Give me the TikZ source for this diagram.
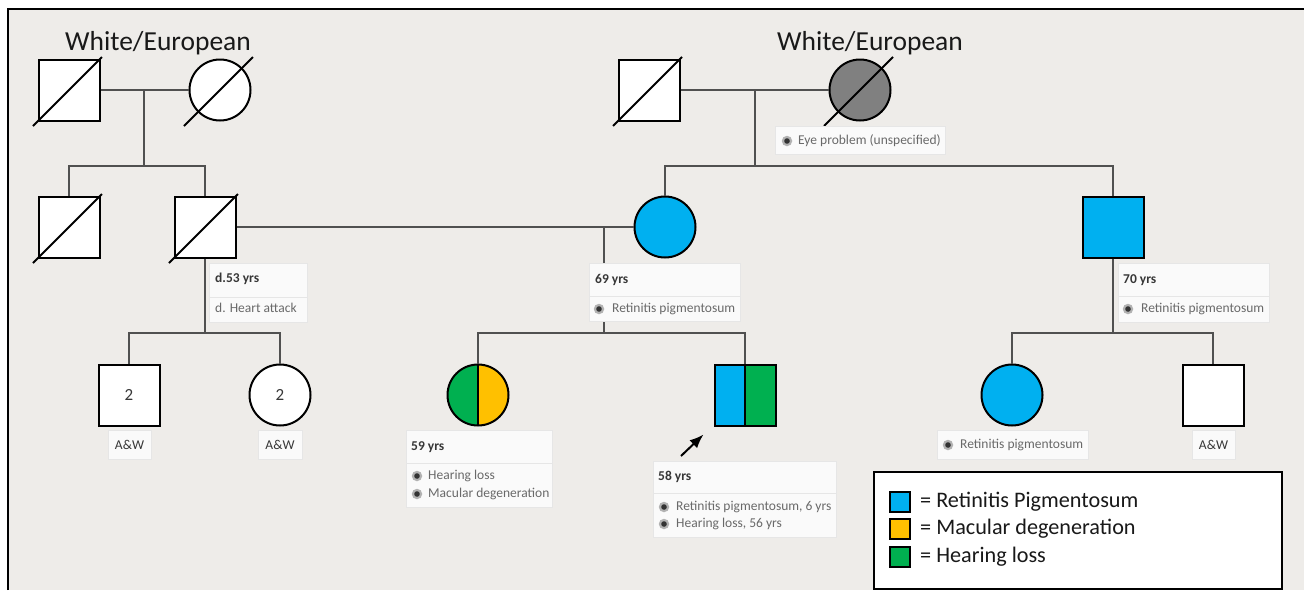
\documentclass[tikz,border=0pt]{standalone}
\usepackage{fontspec}
\setmainfont{Carlito}
\usetikzlibrary{arrows.meta}
\definecolor{bg}{RGB}{238,236,233}
\definecolor{rpblue}{RGB}{0,176,240}
\definecolor{mdyellow}{RGB}{255,192,0}
\definecolor{hlgreen}{RGB}{0,176,80}
\definecolor{eyegray}{RGB}{128,128,128}
\definecolor{lblfill}{RGB}{250,250,250}
\definecolor{lbledge}{RGB}{230,230,230}
\definecolor{txtdark}{RGB}{55,55,55}
\definecolor{txtgray}{RGB}{105,105,105}
\definecolor{connc}{RGB}{80,80,80}
\newcommand\dcsd[1]{\draw[slash] ([shift={(-36,36)}]#1.center) -- ([shift={(33,-33)}]#1.center);}
\newcommand\lbx[6]{\node[lblbox, minimum width=#4pt-#2pt, minimum height=#5pt-#3pt] (#1) at (#2,#3) {};
  \ifx&#6&\else\draw[sepline] (#2,#6) -- (#4,#6);\fi}
\begin{document}
\begin{tikzpicture}[x=1pt,y=-1pt,
  male/.style={rectangle, draw=black, line width=2pt, fill=white, minimum size=61pt, inner sep=0pt, font=\fontsize{17}{20}\selectfont, text=txtdark},
  female/.style={circle, draw=black, line width=2pt, fill=white, minimum size=61pt, inner sep=0pt, font=\fontsize{17}{20}\selectfont, text=txtdark},
  conn/.style={draw=connc, line width=1.3pt},
  slash/.style={draw=black, line width=2pt},
  lblbox/.style={draw=lbledge, fill=lblfill, line width=0.6pt, inner sep=0pt, anchor=north west},
  sepline/.style={draw=lbledge, line width=0.8pt},
  agetxt/.style={inner sep=0pt, anchor=west, text=txtdark, font=\fontsize{13.5}{16}\selectfont\bfseries},
  distxt/.style={inner sep=0pt, anchor=west, text=txtgray, font=\fontsize{13.5}{16}\selectfont},
  bul/.style={circle, inner sep=0pt, minimum size=10.5pt, fill=black!30, draw=none,
    path picture={\fill[black!80] (path picture bounding box.center) circle (2.8pt);}},
  legsq/.style={rectangle, draw=black, line width=1.6pt, minimum size=20pt, inner sep=0pt},
  legtxt/.style={inner sep=0pt, anchor=west, font=\fontsize{22.2}{25}\selectfont, text=black!90},
  ethn/.style={inner sep=0pt, font=\fontsize{27.5}{30}\selectfont, text=black!90}
]
\useasboundingbox (0,0) rectangle (1304,590);
\fill[white] (0,0) rectangle (1304,590);
\fill[bg] (8,9) rectangle (1304,590);
\draw[line width=2pt] (8,590) -- (8,9) -- (1304,9);

% ethnicity
\node[ethn] (eth1) at (158,43) {White/European};
\node[ethn] (eth2) at (870,43) {White/European};

% generation I
\node[male] (gf1) at (69,90) {};
\node[female] (gm1) at (220,90) {};
\node[male] (gf2) at (649,90) {};
\node[female, fill=eyegray] (gm2) at (860,90) {};

% generation II
\node[male] (u1) at (69,227) {};
\node[male] (fa) at (205,227) {};
\node[female, fill=rpblue] (mo) at (665,227) {};
\node[male, fill=rpblue] (uc) at (1113,227) {};

% generation III
\node[male] (c1) at (129,395) {2};
\node[female] (c2) at (280,395) {2};
\node[female, path picture={
   \fill[hlgreen] (path picture bounding box.north west) rectangle (path picture bounding box.south);
   \fill[mdyellow] (path picture bounding box.north) rectangle (path picture bounding box.south east);
   \draw[line width=2pt] (path picture bounding box.north) -- (path picture bounding box.south);}] (s1) at (478,395) {};
\node[male, path picture={
   \fill[rpblue] (path picture bounding box.north west) rectangle (path picture bounding box.south);
   \fill[hlgreen] (path picture bounding box.north) rectangle (path picture bounding box.south east);
   \draw[line width=2pt] (path picture bounding box.north) -- (path picture bounding box.south);}] (pb) at (745,395) {};
\node[female, fill=rpblue] (cc1) at (1012,395) {};
\node[male] (cc2) at (1213,395) {};

% deceased marks
\dcsd{gf1}\dcsd{gm1}\dcsd{gf2}\dcsd{gm2}\dcsd{u1}\dcsd{fa}

% connectors
\coordinate (cp1) at (144,90);
\coordinate (sib1) at (144,166);
\draw[conn] (gf1.east) -- (gm1.west);
\draw[conn] (cp1) -- (sib1);
\draw[conn] (u1.north) |- (sib1) -| (fa.north);

\coordinate (cp2) at (755,90);
\coordinate (sib4) at (755,166);
\draw[conn] (gf2.east) -- (gm2.west);
\draw[conn] (cp2) -- (sib4);
\draw[conn] (mo.north) |- (sib4) -| (uc.north);

\coordinate (sib2) at (205,333);
\draw[conn] (fa.south) -- (sib2);
\draw[conn] (c1.north) |- (sib2) -| (c2.north);

\coordinate (cp3) at (604,227);
\coordinate (sib3) at (604,333);
\draw[conn] (fa.east) -- (mo.west);
\draw[conn] (cp3) -- (sib3);
\draw[conn] (s1.north) |- (sib3) -| (pb.north);

\coordinate (sib5) at (1113,333);
\draw[conn] (uc.south) -- (sib5);
\draw[conn] (cc1.north) |- (sib5) -| (cc2.north);

% proband arrow
\coordinate (arrtail) at (681,456);
\draw[line width=2pt, -{Latex[length=14pt,width=11pt]}] (arrtail) -- ([shift={(-10,8)}]pb.south west);

% label boxes
\lbx{lfa}{209}{263}{307}{322}{297}
\node[agetxt] (tfa1) at (215,279) {d.53 yrs};
\node[distxt] (tfa2) at (215,308) {d. Heart attack};

\lbx{lmo}{589}{263}{740}{321}{296}
\node[agetxt] (tmo1) at (595,280) {69 yrs};
\node[bul] (bmo) at (599,309) {};
\node[distxt] (tmo2) at (612,309) {Retinitis pigmentosum};

\lbx{lgm}{775}{126}{945}{154}{}
\node[bul] (bgm) at (787,141) {};
\node[distxt] (tgm) at (798,141) {Eye problem (unspecified)};

\lbx{luc}{1118}{263}{1269}{322}{296}
\node[agetxt] (tuc1) at (1123,280) {70 yrs};
\node[bul] (buc) at (1128,309) {};
\node[distxt] (tuc2) at (1141,309) {Retinitis pigmentosum};

\lbx{lcc1}{937}{430}{1088}{459}{}
\node[bul] (bcc1) at (948,445) {};
\node[distxt] (tcc1) at (960,445) {Retinitis pigmentosum};

\lbx{lc1}{108}{430}{151}{459}{}
\node[agetxt, anchor=center, font=\fontsize{13.5}{16}\selectfont] (tc1) at (129.5,445) {A\&W};
\lbx{lc2}{258}{430}{302}{459}{}
\node[agetxt, anchor=center, font=\fontsize{13.5}{16}\selectfont] (tc2) at (280,445) {A\&W};
\lbx{lcc2}{1192}{430}{1235}{459}{}
\node[agetxt, anchor=center, font=\fontsize{13.5}{16}\selectfont] (tcc2) at (1213.5,445) {A\&W};

\lbx{ls1}{406}{430}{552}{507}{463}
\node[agetxt] (ts1) at (411,447) {59 yrs};
\node[bul] (bs1a) at (417,476) {};
\node[distxt] (ts1a) at (428,476) {Hearing loss};
\node[bul] (bs1b) at (417,494) {};
\node[distxt] (ts1b) at (428,494) {Macular degeneration};

\lbx{lpb}{653}{461}{836}{537}{493}
\node[agetxt] (tpb) at (658,477) {58 yrs};
\node[bul] (bpba) at (664,507) {};
\node[distxt] (tpba) at (676,507) {Retinitis pigmentosum, 6 yrs};
\node[bul] (bpbb) at (664,524) {};
\node[distxt] (tpbb) at (676,524) {Hearing loss, 56 yrs};

% legend
\node[rectangle, draw=black, line width=2pt, fill=white, anchor=north west, minimum width=408pt, minimum height=117pt, inner sep=0pt] (leg) at (873,471) {};
\node[legsq, fill=rpblue] (lq1) at (900,502) {};
\node[legtxt] (lt1) at (920,502) {= Retinitis Pigmentosum};
\node[legsq, fill=mdyellow] (lq2) at (900,529) {};
\node[legtxt] (lt2) at (920,529) {= Macular degeneration};
\node[legsq, fill=hlgreen] (lq3) at (900,557) {};
\node[legtxt] (lt3) at (920,557) {= Hearing loss};
\end{tikzpicture}
\end{document}
